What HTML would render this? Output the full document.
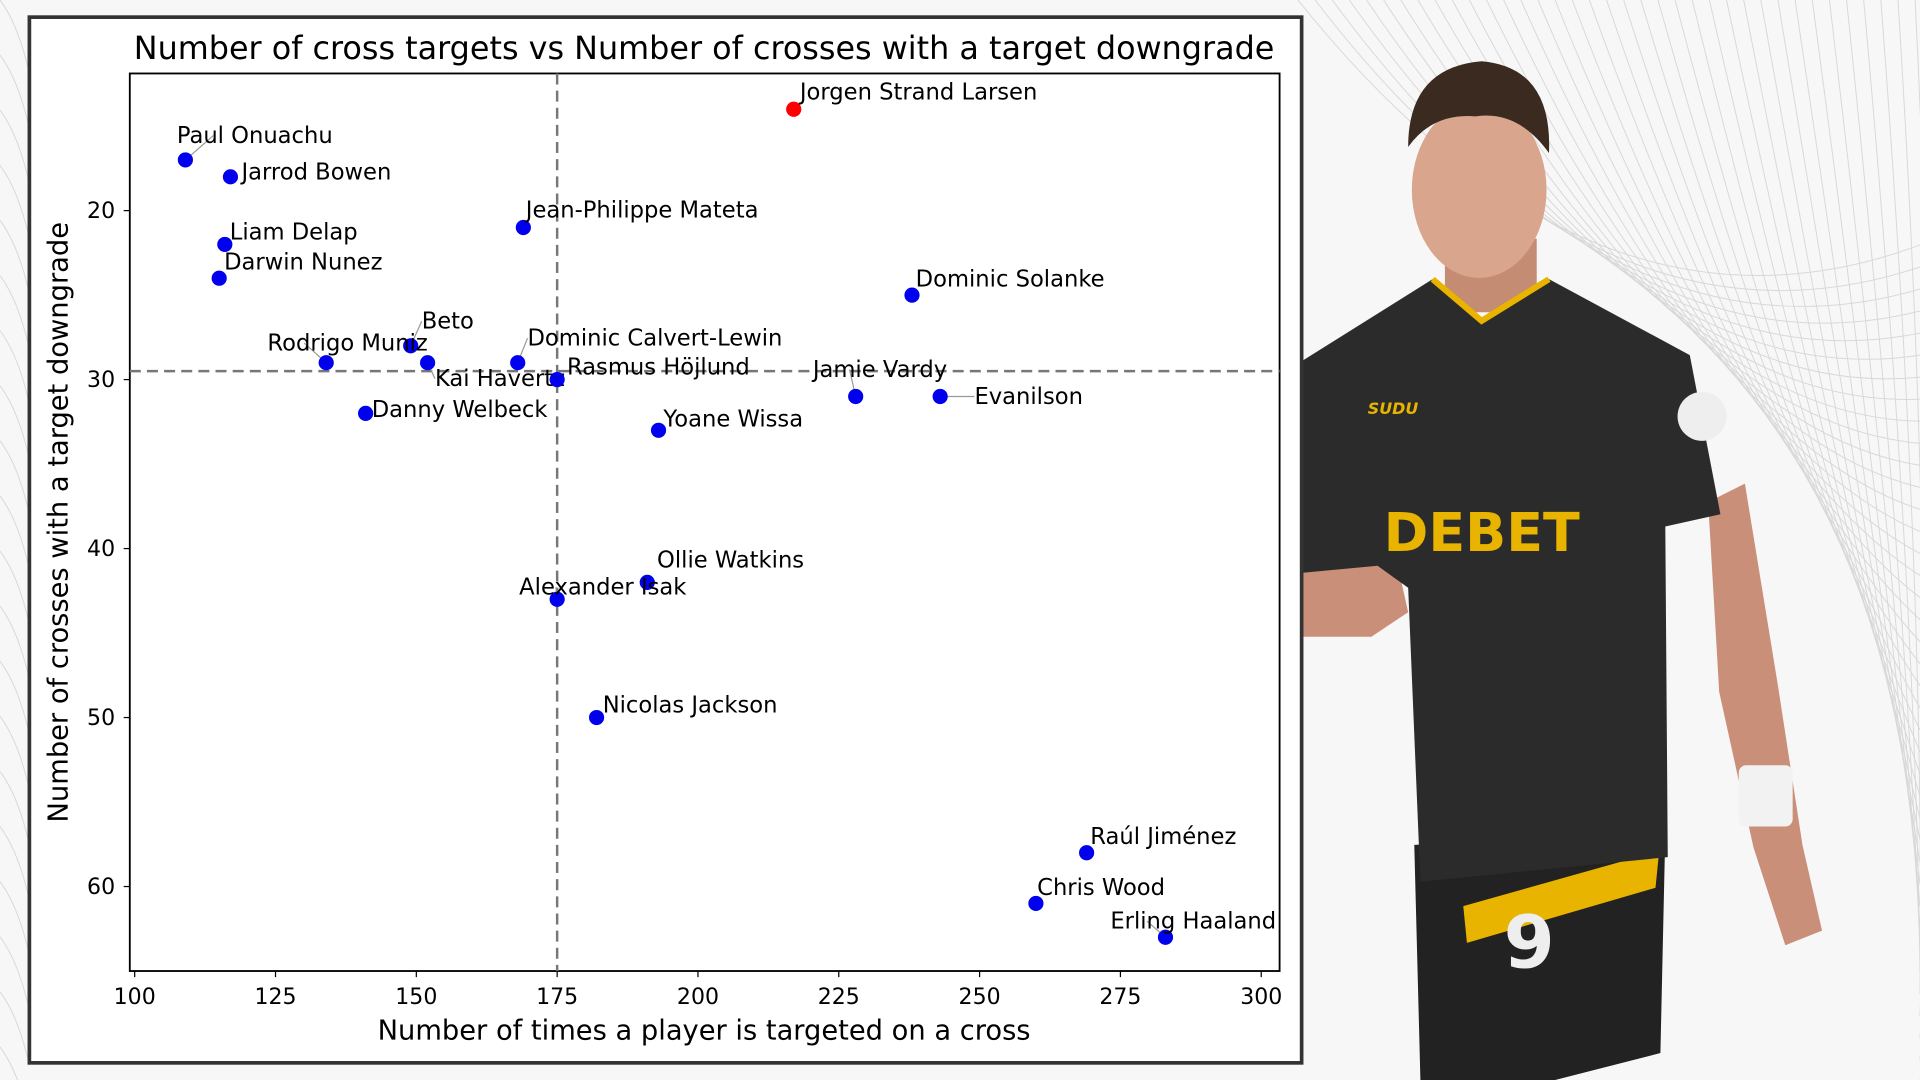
<!DOCTYPE html>
<html><head><meta charset="utf-8">
<style>
html,body{margin:0;padding:0;background:#fff;}
svg{display:block;}
text{font-family:"DejaVu Sans","Liberation Sans",sans-serif;}
</style></head>
<body>
<svg id="root" width="1920" height="1080" viewBox="0 0 1568 882" xmlns="http://www.w3.org/2000/svg">
  <rect x="0" y="0" width="1568" height="882" fill="#f7f7f7"/>
  <g id="bgLines" stroke="#d8d8d8" stroke-width="0.8" fill="none"></g>
  <g>
    <polygon points="1395,410 1425,395 1452,560 1472,690 1488,760 1458,772 1432,692 1404,565" fill="#c98f78"/>
    <rect x="1420" y="625" width="44" height="50" rx="6" fill="#f2f2f2"/>
    <polygon points="1040,470 1080,455 1140,455 1150,500 1120,520 1060,520 1038,505" fill="#c98f78"/>
    <polygon points="1155,690 1360,680 1356,860 1270,882 1160,882" fill="#222"/>
    <polygon points="1195,740 1355,695 1352,725 1198,770" fill="#e8b400"/>
    <rect x="1180" y="195" width="75" height="60" fill="#c58c74"/>
    <polygon points="1055,300 1170,228 1210,260 1265,228 1380,290 1405,420 1360,430 1362,700 1160,720 1150,480 1125,462 1040,470 1045,400" fill="#2b2b2b"/>
    <polyline points="1170,228 1210,262 1265,228" fill="none" stroke="#e8b400" stroke-width="5"/>
    <ellipse cx="1208" cy="155" rx="55" ry="72" fill="#d9a58c"/>
    <path d="M1150,120 Q1150,55 1210,50 Q1268,55 1265,125 Q1240,90 1205,95 Q1170,92 1150,120Z" fill="#3a2a20"/>
    <text x="1130" y="450" font-size="44" font-weight="bold" fill="#e8b400">DEBET</text>
    <text x="1117" y="338" font-size="13" font-weight="bold" fill="#e8b400" font-style="italic">SUDU</text>
    <text x="1228" y="790" font-size="60" font-weight="bold" fill="#eee">9</text>
    <circle cx="1390" cy="340" r="20" fill="#eee"/>
  </g>
  <rect x="24" y="14" width="1039" height="854" fill="#fff" stroke="#333" stroke-width="3"/>
  <g id="chart"></g>
</svg>
<script>
const players = ["Paul Onuachu","Jarrod Bowen","Jean-Philippe Mateta","Liam Delap","Darwin Nunez","Jorgen Strand Larsen","Dominic Solanke","Beto","Rodrigo Muniz","Kai Havertz","Dominic Calvert-Lewin","Rasmus Höjlund","Jamie Vardy","Evanilson","Danny Welbeck","Yoane Wissa","Ollie Watkins","Alexander Isak","Nicolas Jackson","Raúl Jiménez","Chris Wood","Erling Haaland"];
const crossTargets = [109,117,169,116,115,217,238,149,134,152,168,175,228,243,141,193,191,175,182,269,260,283];
const targetDowngrades = [17,18,21,22,24,14,25,28,29,29,29,30,31,31,32,33,42,43,50,58,61,63];
const highlighted = ["Jorgen Strand Larsen"];
const xTicks = [100,125,150,175,200,225,250,275,300];
const yTicks = [20,30,40,50,60];
// label offsets (layout, not data)
const labelDx = [-7,9,2,4,4,5,3,9,-48,6,8,8,-35,28,5,4,8,-31,5,3,1,-45];
const labelDy = [-14,2,-8,-4,-7,-8,-7,-14,-10,19,-14,-4,-16,6,3,-3,-12,-4,-4,-7,-7,-7];

const NS="http://www.w3.org/2000/svg";
const chart=document.getElementById('chart');
const P={l:106,r:1045,t:60,b:793};
const X=v=>110+(v-100)*4.6;
const Y=v=>172+(v-20)*13.8;
function el(tag,attrs,parent){const e=document.createElementNS(NS,tag);for(const k in attrs)e.setAttribute(k,attrs[k]);(parent||chart).appendChild(e);return e;}
function median(a){const s=[...a].sort((p,q)=>p-q);const n=s.length;return n%2?s[(n-1)/2]:(s[n/2-1]+s[n/2])/2;}

const bg=document.getElementById('bgLines');
for(let i=0;i<40;i++){el('path',{d:`M${1060+i*14},0 Q${1300+i*8},${300+i*5} ${1568},${200+i*18}`},bg);}
for(let i=0;i<20;i++){el('path',{d:`M0,${i*45} Q15,${i*45+20} 24,${i*45+60}`},bg);}

const title=el('text',{x:575,y:48,'font-size':26,'text-anchor':'middle',fill:'#000'});
title.textContent='Number of cross targets vs Number of crosses with a target downgrade';



const plot=el('rect',{x:P.l,y:P.t,width:P.r-P.l,height:P.b-P.t,fill:'none',stroke:'#000','stroke-width':1.5});



xTicks.forEach(t=>{
  el('line',{x1:X(t),x2:X(t),y1:P.b,y2:P.b+5,stroke:'#000'});
  const tx=el('text',{x:X(t),y:P.b+27,'font-size':18,'text-anchor':'middle'});
  tx.textContent=t;
  
  
});
yTicks.forEach(t=>{
  el('line',{x1:P.l-5,x2:P.l,y1:Y(t),y2:Y(t),stroke:'#000'});
  const tx=el('text',{x:P.l-12,y:Y(t)+6,'font-size':18,'text-anchor':'end'});
  tx.textContent=t;
  
  
});
const xt=el('text',{x:575,y:849,'font-size':22.3,'text-anchor':'middle'});
xt.textContent='Number of times a player is targeted on a cross';


const yt=el('text',{x:0,y:0,'font-size':22.3,'text-anchor':'middle',transform:`translate(55,${(P.t+P.b)/2}) rotate(-90)`});
yt.textContent='Number of crosses with a target downgrade';



const mx=median(crossTargets), my=median(targetDowngrades);
const vl=el('line',{x1:X(mx),x2:X(mx),y1:P.t,y2:P.b,stroke:'#777','stroke-width':2,'stroke-dasharray':'9,5'});


const hl=el('line',{x1:P.l,x2:P.r,y1:Y(my),y2:Y(my),stroke:'#777','stroke-width':2,'stroke-dasharray':'9,5'});



players.forEach((name,i)=>{
  const cx=X(crossTargets[i]), cy=Y(targetDowngrades[i]);
  const lx=cx+labelDx[i], ly=cy+labelDy[i];
  if(Math.abs(labelDx[i])>10||Math.abs(labelDy[i])>12){
    el('line',{x1:cx,y1:cy,x2:lx+(labelDx[i]<0?30:0),y2:ly-6,stroke:'#999','stroke-width':1});
  }
  const c=el('circle',{cx:cx,cy:cy,r:6.2,fill:highlighted.includes(name)?'#f00':'#0000ee'});
  
  
  const t=el('text',{x:lx,y:ly,'font-size':18.5,fill:'#000'});
  t.textContent=name;
  
  
});
</script>
</body></html>
